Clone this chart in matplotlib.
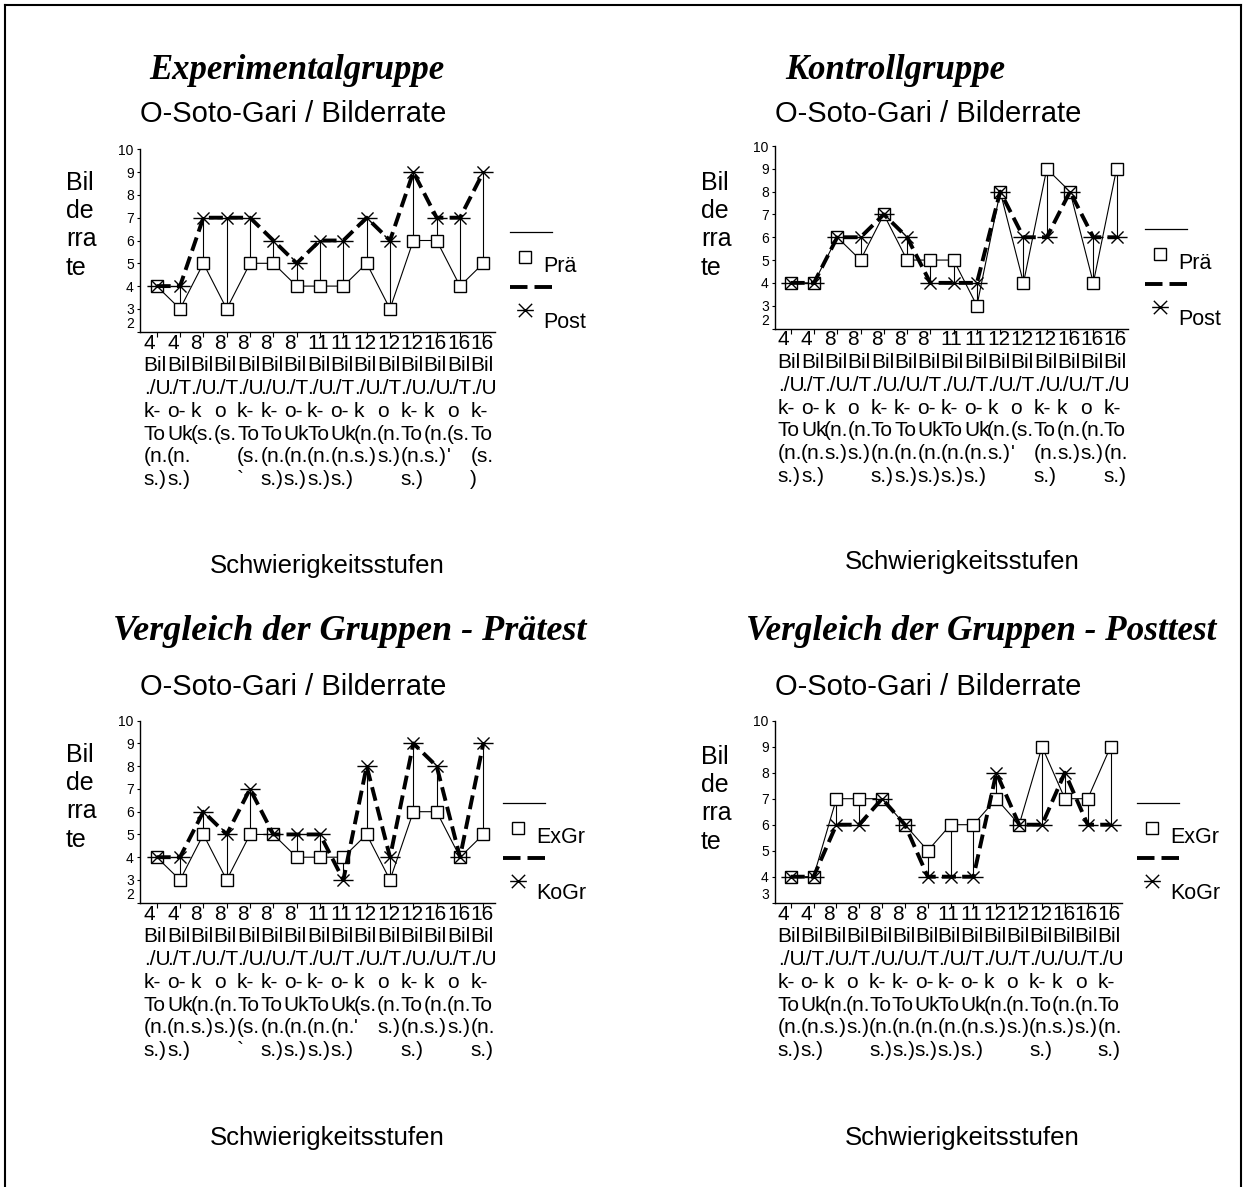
import matplotlib
matplotlib.use("Agg")
import matplotlib.pyplot as plt
import matplotlib.transforms as mtransforms
from matplotlib.path import Path
from matplotlib.lines import Line2D

W, H, DPI = 1246, 1187, 100
SANS = "Liberation Sans"
SERIF = "Liberation Serif"
plt.rcParams["font.family"] = [SANS, "DejaVu Sans"]

# ---------------- data ----------------
level = ["4", "4", "8", "8", "8", "8", "8", "11", "11", "12", "12", "12", "16", "16", "16"]
row_bil = ["Bil"] * 15
row_type = ["./U", "./T", "./U", "./T", "./U", "./U", "./T", "./U", "./T", "./U", "./T", "./U", "./U", "./T", "./U"]
row_k = ["k-", "o-", "k", "o", "k-", "k-", "o-", "k-", "o-", "k", "o", "k-", "k", "o", "k-"]

tl_r5 = ["To", "Uk", "(s.", "(s.", "To", "To", "Uk", "To", "Uk", "(n.", "(n.", "To", "(n.", "(s.", "To"]
tl_r6 = ["(n.", "(n.", "", "", "(s.", "(n.", "(n.", "(n.", "(n.", "s.)", "s.)", "(n.", "s.)", "'", "(s."]
tl_r7 = ["s.)", "s.)", "", "", "`", "s.)", "s.)", "s.)", "s.)", "", "", "s.)", "", "", ")"]

tr_r5 = ["To", "Uk", "(n.", "(n.", "To", "To", "Uk", "To", "Uk", "(n.", "(s.", "To", "(n.", "(n.", "To"]
tr_r6 = ["(n.", "(n.", "s.)", "s.)", "(n.", "(n.", "(n.", "(n.", "(n.", "s.)", "'", "(n.", "s.)", "s.)", "(n."]
tr_r7 = ["s.)", "s.)", "", "", "s.)", "s.)", "s.)", "s.)", "s.)", "", "", "s.)", "", "", "s.)"]

bl_r5 = ["To", "Uk", "(n.", "(n.", "To", "To", "Uk", "To", "Uk", "(s.", "(n.", "To", "(n.", "(n.", "To"]
bl_r6 = ["(n.", "(n.", "s.)", "s.)", "(s.", "(n.", "(n.", "(n.", "(n.", "'", "s.)", "(n.", "s.)", "s.)", "(n."]
bl_r7 = ["s.)", "s.)", "", "", "`", "s.)", "s.)", "s.)", "s.)", "", "", "s.)", "", "", "s.)"]

br_r5 = ["To", "Uk", "(n.", "(n.", "To", "To", "Uk", "To", "Uk", "(n.", "(n.", "To", "(n.", "(n.", "To"]
br_r6 = ["(n.", "(n.", "s.)", "s.)", "(n.", "(n.", "(n.", "(n.", "(n.", "s.)", "s.)", "(n.", "s.)", "s.)", "(n."]
br_r7 = ["s.)", "s.)", "", "", "s.)", "s.)", "s.)", "s.)", "s.)", "", "", "s.)", "", "", "s.)"]

exp_pre = [4, 3, 5, 3, 5, 5, 4, 4, 4, 5, 3, 6, 6, 4, 5]
exp_post = [4, 4, 7, 7, 7, 6, 5, 6, 6, 7, 6, 9, 7, 7, 9]
ko_pre = [4, 4, 6, 5, 7, 5, 5, 5, 3, 8, 4, 9, 8, 4, 9]
ko_post = [4, 4, 6, 6, 7, 6, 4, 4, 4, 8, 6, 6, 8, 6, 6]

titles = ["Experimentalgruppe", "Kontrollgruppe",
          "Vergleich der Gruppen - Prätest", "Vergleich der Gruppen - Posttest"]
subtitle = "O-Soto-Gari / Bilderrate"
xlabel = "Schwierigkeitsstufen"
ylabel = "Bil\nde\nrra\nte"
names_time = ["Prä", "Post"]
names_group = ["ExGr", "KoGr"]


def make_labels(r5, r6, r7):
    out = []
    for i in range(15):
        rows = [level[i], row_bil[i], row_type[i], row_k[i], r5[i], r6[i], r7[i]]
        while rows and rows[-1] == "":
            rows.pop()
        out.append("\n".join(r if r else " " for r in rows))
    return out


# star marker: X with a horizontal bar
star = Path([(-1, 0), (1, 0), (-0.6, -0.6), (0.6, 0.6), (-0.6, 0.6), (0.6, -0.6)],
            [Path.MOVETO, Path.LINETO] * 3)
star_small = Path([(-0.75, 0), (0.75, 0), (-0.6, -0.6), (0.6, 0.6), (-0.6, 0.6), (0.6, -0.6)],
                  [Path.MOVETO, Path.LINETO] * 3)
DASH = (0, (3.6, 1.6))

fig = plt.figure(figsize=(W / DPI, H / DPI), dpi=DPI)


def fx(x):
    return x / W


def fy(y):
    return 1 - y / H


def offset(dx, dy):
    return mtransforms.ScaledTranslation(dx / DPI, -dy / DPI, fig.dpi_scale_trans)


def panel(l, r, t, b, ymin, xlim, s1, s2, labels):
    ax = fig.add_axes([fx(l), fy(b), (r - l) / W, (b - t) / H])
    x = list(range(len(s1)))
    lo = [min(a, c) for a, c in zip(s1, s2)]
    hi = [max(a, c) for a, c in zip(s1, s2)]
    ax.vlines(x, lo, hi, color="black", lw=0.8, zorder=2)
    ax.plot(x, s1, color="black", lw=0.8, marker="s", ms=8.6, mfc="white",
            mec="black", mew=1.0, zorder=3, clip_on=False)
    ax.plot(x, s2, color="black", lw=2.8, ls=DASH, dash_capstyle="butt", zorder=4,
            clip_on=False)
    ax.plot(x, s2, ls="none", marker=star, ms=14.5, mec="black", mew=1.0,
            zorder=5, clip_on=False)
    ax.set_xlim(*xlim)
    ax.set_ylim(ymin, 10)
    for sp in ["top", "right"]:
        ax.spines[sp].set_visible(False)
    for sp in ["left", "bottom"]:
        ax.spines[sp].set_linewidth(1.0)
    ax.set_yticks(range(ymin, 11))
    ax.set_yticklabels([str(v) for v in range(ymin, 11)])
    ax.tick_params(axis="y", direction="out", length=2.5, width=0.8, pad=2,
                   labelsize=10)
    ax.set_xticks(x)
    ax.set_xticklabels(labels, ha="left", multialignment="left", linespacing=1.25,
                       fontsize=15)
    ax.tick_params(axis="x", direction="out", length=3.6, width=0.8, pad=-2.2)
    for lab in ax.get_xticklabels():
        lab.set_transform(lab.get_transform() + offset(-13, 0))
    first = ax.yaxis.get_major_ticks()[0].label1
    first.set_transform(first.get_transform() + offset(0, -9))
    return ax


# panels
panel(140, 495, 149.3, 331.7, 2, (-0.716, 14.5), exp_pre, exp_post,
      make_labels(tl_r5, tl_r6, tl_r7))
panel(775, 1128, 146, 328.5, 2, (-0.674, 14.49), ko_pre, ko_post,
      make_labels(tr_r5, tr_r6, tr_r7))
panel(140, 495, 720.7, 902.7, 2, (-0.716, 14.5), exp_pre, ko_pre,
      make_labels(bl_r5, bl_r6, bl_r7))
panel(775, 1122, 720.7, 902.7, 3, (-0.687, 14.5), exp_post, ko_post,
      make_labels(br_r5, br_r6, br_r7))

# titles
for (cx, by, fs), t in zip([(296.5, 79, 25), (895, 79, 25), (350, 640, 26),
                            (981, 640, 25.3)], titles):
    fig.text(fx(cx), fy(by), t, ha="center", va="baseline", fontsize=fs,
             family=SERIF, weight="bold", style="italic")
for cx, by in [(293.5, 121.5), (928, 121.5), (293.5, 695), (928, 695)]:
    fig.text(fx(cx), fy(by), subtitle, ha="center", va="baseline", fontsize=21)
for cx, by in [(327, 573), (962, 569), (327, 1145), (962, 1145)]:
    fig.text(fx(cx), fy(by), xlabel, ha="center", va="baseline", fontsize=18.5)
for lx, ty in [(66, 171), (701, 171), (66, 743), (701, 745)]:
    fig.text(fx(lx), fy(ty), ylabel, ha="left", va="top", fontsize=18,
             linespacing=1.22)


# Excel style legends
def legend(x0, ytop, names):
    fig.add_artist(Line2D([fx(x0), fx(x0 + 42)], [fy(ytop)] * 2, color="black",
                          lw=0.9, transform=fig.transFigure))
    fig.add_artist(Line2D([fx(x0 + 15)], [fy(ytop + 25)], ls="none", marker="s",
                          ms=8.6, mfc="white", mec="black", mew=1.0,
                          transform=fig.transFigure))
    fig.text(fx(x0 + 33), fy(ytop + 40), names[0], ha="left", va="baseline",
             fontsize=15.5)
    fig.add_artist(Line2D([fx(x0), fx(x0 + 42)], [fy(ytop + 55)] * 2, color="black",
                          lw=2.8, ls=(0, (4.5, 1.8)), dash_capstyle="butt",
                          transform=fig.transFigure))
    fig.add_artist(Line2D([fx(x0 + 15)], [fy(ytop + 78)], ls="none",
                          marker=star_small, ms=12, mec="black", mew=1.0,
                          transform=fig.transFigure))
    fig.text(fx(x0 + 33), fy(ytop + 96), names[1], ha="left", va="baseline",
             fontsize=15.5)


legend(510, 232, names_time)
legend(1145, 229, names_time)
legend(503, 803, names_group)
legend(1137, 803, names_group)

# outer frame
for xs, ys in [([5, 5], [5, 1187]), ([5, 1241], [5, 5]), ([1241, 1241], [5, 1187])]:
    fig.add_artist(Line2D([fx(v) for v in xs], [fy(v) for v in ys], color="black",
                          lw=1.5, transform=fig.transFigure))

fig.savefig("out.png", dpi=DPI)
